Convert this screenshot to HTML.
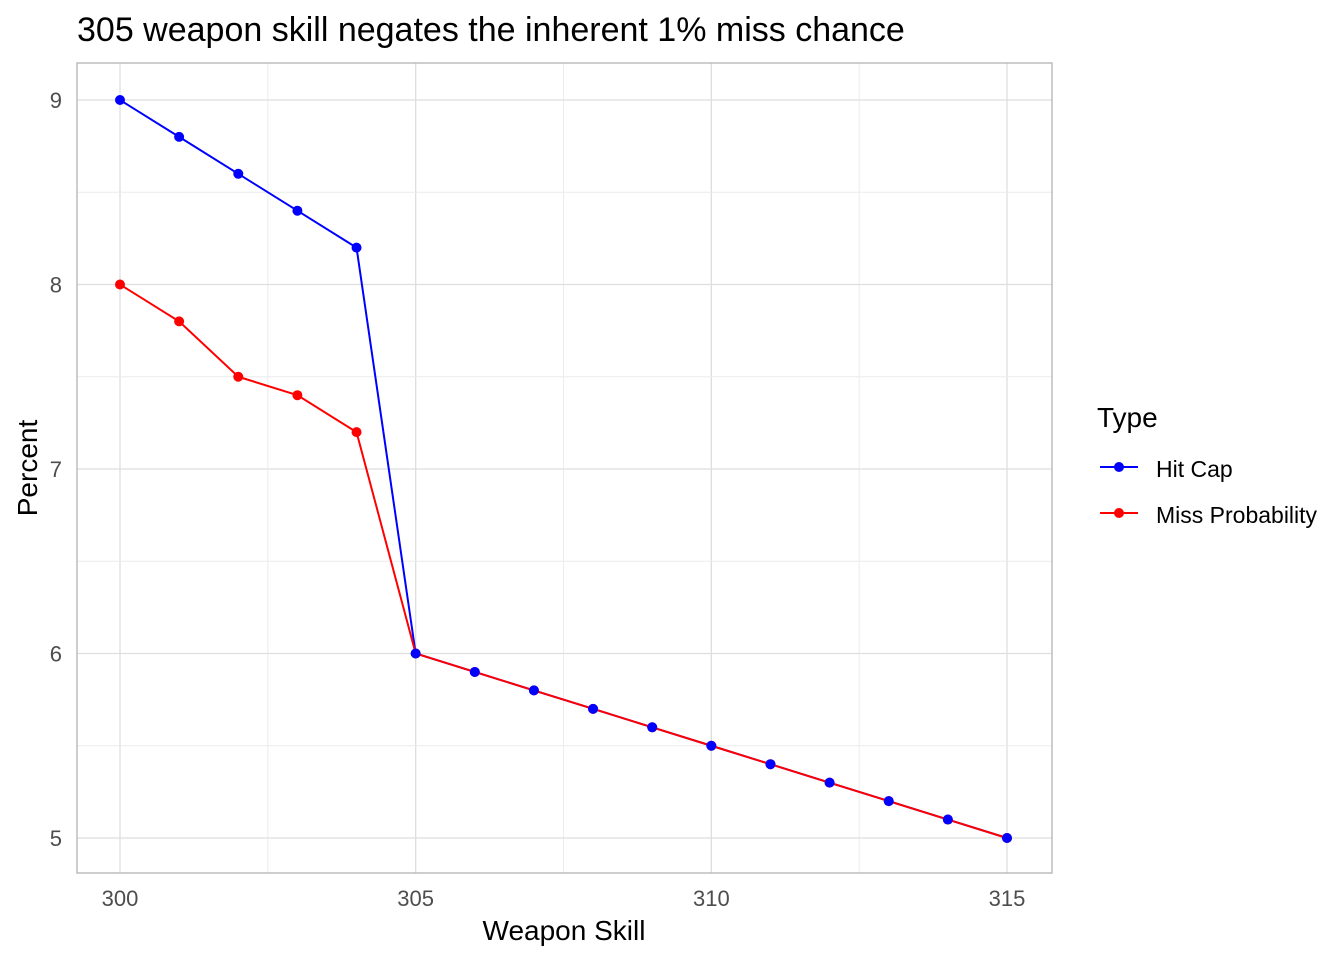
<!DOCTYPE html>
<html><head><meta charset="utf-8"><style>
body{margin:0;background:#fff;font-family:"Liberation Sans",Arial,sans-serif}
svg text{font-family:"Liberation Sans",Arial,sans-serif}
</style></head><body>
<svg id="c" width="1344" height="960">
<text x="77" y="41" font-size="34" fill="#000">305 weapon skill negates the inherent 1% miss chance</text>
<g id="grid"></g>
<rect x="77" y="63" width="975" height="810" fill="none" stroke="#b3b3b3" stroke-width="1.3"/>
<g id="series"></g>
<g id="axes"></g>
<text x="564" y="940" font-size="28" text-anchor="middle" fill="#000">Weapon Skill</text>
<text transform="translate(37,468) rotate(-90)" font-size="28" text-anchor="middle" fill="#000">Percent</text>
<g>
<text x="1097" y="427" font-size="28" fill="#000">Type</text>
<g>
<line x1="1100" y1="467" x2="1138" y2="467" stroke="#0000ff" stroke-width="2"/>
<circle cx="1119" cy="467" r="5" fill="#0000ff"/>
<text x="1156" y="477" font-size="23" fill="#000">Hit Cap</text></g>
<g>
<line x1="1100" y1="513" x2="1138" y2="513" stroke="#ff0000" stroke-width="2"/>
<circle cx="1119" cy="513" r="5" fill="#ff0000"/>
<text x="1156" y="523" font-size="23" fill="#000">Miss Probability</text></g>
</g>
</svg>
<script>
const skills=[300,301,302,303,304,305,306,307,308,309,310,311,312,313,314,315];
const hitCap=[9,8.8,8.6,8.4,8.2,6,5.9,5.8,5.7,5.6,5.5,5.4,5.3,5.2,5.1,5];
const missProb=[8,7.8,7.5,7.4,7.2,6,5.9,5.8,5.7,5.6,5.5,5.4,5.3,5.2,5.1,5];
const xTicks=[300,305,310,315];
const yTicks=[5,6,7,8,9];
const NS="http://www.w3.org/2000/svg";
const xs=v=>120+(v-300)*(1007-120)/15;
const ys=v=>838-(v-5)*(838-100)/4;
function mk(t,a,p){const e=document.createElementNS(NS,t);for(const k in a)e.setAttribute(k,a[k]);p.appendChild(e);return e;}
const grid=document.getElementById('grid'),axes=document.getElementById('axes'),ser=document.getElementById('series');
for(let i=0;i<xTicks.length;i++){
  const v=xTicks[i];
  const l=mk('line',{x1:xs(v),x2:xs(v),y1:63,y2:873,stroke:'#dedede','stroke-width':1.3},grid);
  
  
  if(i<xTicks.length-1){const m=mk('line',{x1:xs(v+2.5),x2:xs(v+2.5),y1:63,y2:873,stroke:'#ececec','stroke-width':1},grid);
  
  }
  const t=mk('text',{x:xs(v),y:906,'font-size':22,'text-anchor':'middle',fill:'#4d4d4d'},axes);t.textContent=v;
  
  
}
for(let i=0;i<yTicks.length;i++){
  const v=yTicks[i];
  const l=mk('line',{x1:77,x2:1052,y1:ys(v),y2:ys(v),stroke:'#dedede','stroke-width':1.3},grid);
  
  
  if(i<yTicks.length-1){const m=mk('line',{x1:77,x2:1052,y1:ys(v+0.5),y2:ys(v+0.5),stroke:'#ececec','stroke-width':1},grid);
  
  }
  const t=mk('text',{x:62,y:ys(v)+8,'font-size':22,'text-anchor':'end',fill:'#4d4d4d'},axes);t.textContent=v;
  
  
}
const series=[['hit-cap',hitCap,'#0000ff'],['miss-probability',missProb,'#ff0000']];
series.forEach(s=>{
  const p=mk('polyline',{points:s[1].map((v,i)=>xs(skills[i])+','+ys(v)).join(' '),fill:'none',stroke:s[2],'stroke-width':2},ser);
  
  
});
[series[1],series[0]].forEach(s=>{
  s[1].forEach((v,i)=>{
    const c=mk('circle',{cx:xs(skills[i]),cy:ys(v),r:5,fill:s[2]},ser);
    
    
  });
});
</script>
</body></html>
